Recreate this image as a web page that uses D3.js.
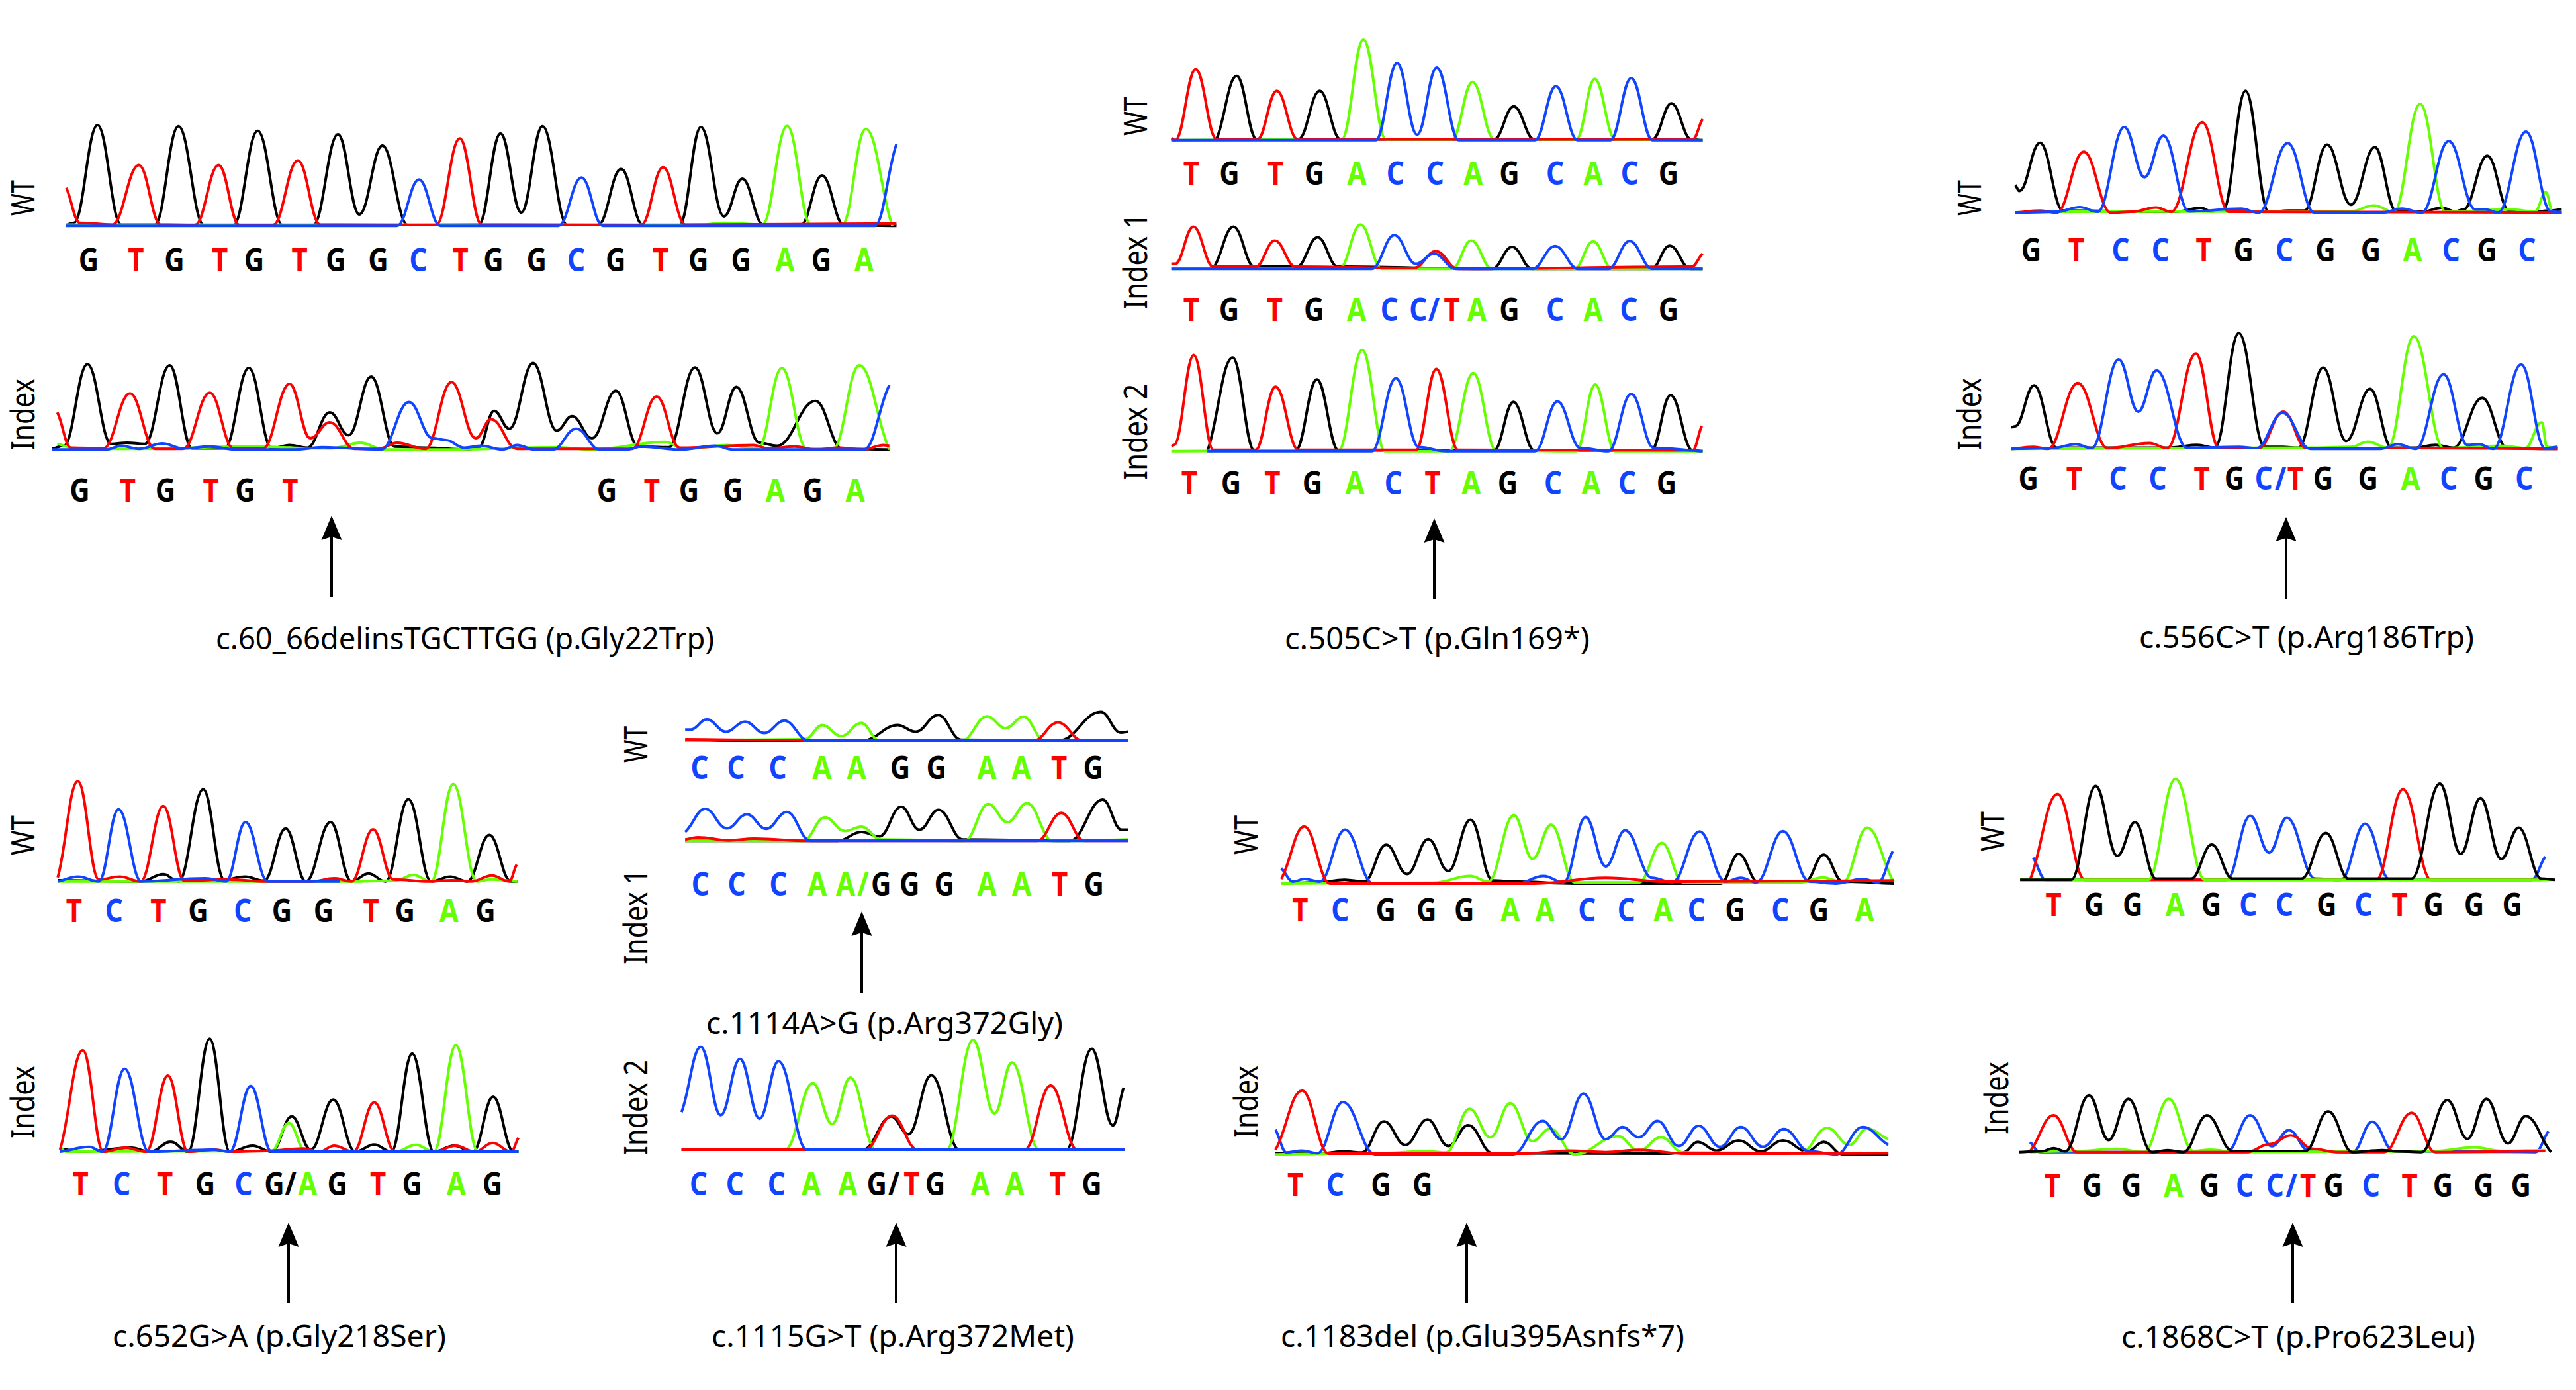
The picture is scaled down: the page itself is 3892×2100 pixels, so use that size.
<!DOCTYPE html>
<html><head><meta charset="utf-8">
<script src="https://cdn.jsdelivr.net/npm/d3@7"></script>
<style>html,body{margin:0;background:#fff}svg{display:block}</style></head>
<body><div id="chart"></div>
<script>
// Signal: flat lists of scan, signal (G, A, T, C channels per trace)
const aWtG=[112,2,125,8,165,265,205,3,262,3,302,262,345,2,395,2,436,250,478,2,530,2,572,241,608,30,647,211,690,2,810,3,847,243,882,35,918,262,960,2,1012,2,1051,150,1088,2,1150,2,1186,260,1225,25,1256,124,1292,2,1355,2,1391,133,1428,2,1517,0];
const aWtT=[112,100,135,8,190,3,235,160,272,3,330,2,370,160,405,2,462,2,504,172,542,3,738,2,778,230,815,3,1085,2,1122,154,1160,3,1517,6];
const aWtA=[112,3,1190,3,1225,8,1290,3,1332,263,1372,3,1425,3,1465,255,1510,0];
const aWtC=[112,0,672,0,709,122,745,0,945,0,984,127,1020,0,1480,0,1517,215];
const aIxG=[88,2,108,10,148,225,188,15,215,18,245,15,287,222,325,3,380,3,421,215,460,3,490,12,520,5,558,98,590,38,628,192,668,8,720,5,790,0,810,5,836,102,862,55,902,228,942,50,968,88,1002,30,1042,155,1080,8,1132,6,1176,216,1214,43,1246,165,1285,18,1315,10,1380,128,1425,2,1505,0];
const aIxT=[97,98,120,5,175,3,220,148,262,2,310,2,355,150,395,3,445,3,490,173,525,30,558,72,600,2,640,2,672,18,720,2,764,178,805,30,831,80,875,2,1070,2,1111,140,1150,5,1275,12,1300,3,1345,8,1380,0,1420,5,1460,0,1495,12,1505,10];
const aIxA=[97,15,130,3,180,2,240,2,415,8,560,3,610,18,650,0,760,0,940,6,1000,0,1125,20,1160,2,1230,12,1283,3,1323,215,1365,3,1410,3,1454,222,1505,0];
const aIxC=[88,0,180,0,205,10,235,2,275,16,310,3,355,8,400,0,500,0,545,6,645,0,692,125,732,30,755,25,785,5,815,10,850,0,875,12,905,0,935,0,975,55,1015,0,1060,0,1085,8,1150,0,1210,10,1240,0,1462,0,1505,170];

const bWtT=[115,5,125,0,176,168,228,2,330,2,378,117,430,2,1415,2,1440,50];
const bWtG=[228,3,278,152,328,2,432,2,485,117,537,2,920,2,969,80,1020,2,1315,2,1362,87,1412,2,1440,0];
const bWtA=[115,0,540,2,594,238,650,2,815,2,866,138,920,2,1125,2,1171,145,1222,2,1440,0];
const bWtC=[115,0,625,0,678,183,728,13,777,172,832,0,1022,0,1074,128,1128,0,1210,0,1262,147,1315,0,1440,0];
const bI1T=[115,12,125,12,170,100,220,5,325,5,373,67,425,5,720,2,775,42,830,0,1412,5,1440,36];
const bI1G=[222,5,270,100,322,5,428,5,480,75,530,5,915,0,965,52,1015,0,1312,0,1358,55,1410,0,1440,0];
const bI1A=[115,0,535,2,587,105,640,0,815,0,863,67,915,0,1120,0,1167,65,1215,0,1440,0];
const bI1C=[115,0,615,0,671,80,725,12,770,36,825,0,1015,0,1072,54,1130,0,1205,0,1258,66,1315,0,1440,0];
const bI2T=[115,12,122,15,171,228,220,3,325,3,375,153,432,3,725,3,776,195,830,3,1415,2,1438,60];
const bI2G=[205,0,268,222,322,2,425,2,478,170,532,2,920,2,968,117,1020,2,1312,2,1360,133,1415,2,1440,0];
const bI2A=[115,0,532,2,591,240,648,0,808,0,868,185,925,2,1125,0,1172,158,1222,0,1440,0];
const bI2C=[205,0,615,0,675,173,732,10,800,0,1022,0,1078,118,1135,8,1205,0,1262,136,1318,8,1440,0];

const cWtG=[158,70,168,55,220,178,278,5,560,2,625,12,650,3,680,5,737,310,795,2,845,5,885,5,942,173,1002,20,1062,167,1115,5,1180,2,1230,12,1265,3,1285,8,1345,145,1400,5,1460,2,1500,5,1532,8];
const cWtT=[158,0,222,5,262,0,330,155,398,0,450,2,512,13,550,2,628,230,695,2,1532,0];
const cWtA=[158,0,280,2,1000,3,1060,18,1110,2,1176,277,1240,2,1400,8,1465,3,1492,52,1510,0,1532,0];
const cWtC=[158,0,262,2,320,14,365,2,432,218,483,90,530,196,595,3,725,10,770,0,843,177,910,0,1080,0,1130,10,1180,0,1248,182,1315,8,1340,8,1372,0,1442,206,1505,3,1532,0];
const cIxG=[148,55,158,58,205,162,262,3,540,3,615,10,660,3,720,295,785,5,830,5,870,3,932,207,990,20,1050,153,1105,3,1160,3,1215,10,1260,3,1332,130,1395,2,1500,0,1522,0];
const cIxT=[148,0,205,5,240,0,315,168,390,2,495,15,540,2,612,243,670,2,770,2,832,95,890,2,1150,2,1522,0];
const cIxA=[148,0,900,3,1000,5,1045,18,1095,3,1160,287,1235,2,1380,8,1440,2,1482,68,1495,5,1522,2];
const cIxC=[148,0,250,2,310,12,350,2,418,228,467,95,513,200,590,3,720,5,765,2,830,92,900,0,1075,0,1120,12,1165,0,1235,190,1295,10,1325,12,1360,0,1430,215,1490,2,1522,5];

const dWtT=[152,10,205,250,260,5,315,12,370,0,430,188,485,2,600,5,700,0,820,0,880,8,925,0,982,130,1035,5,1130,0,1190,3,1240,0,1295,15,1340,0,1360,42];
const dWtG=[152,3,370,0,430,18,470,0,535,230,590,5,645,12,695,2,752,132,805,0,870,148,925,0,970,20,1015,0,1075,205,1135,0,1185,12,1230,0,1288,116,1345,0,1362,0];
const dWtA=[152,0,915,0,1040,2,1088,16,1135,0,1193,243,1255,0,1290,5,1362,0];
const dWtC=[152,0,205,12,260,0,312,180,372,0,540,8,595,0,646,148,705,0,895,0];
const dIxT=[158,5,218,253,272,0,330,10,385,0,442,190,495,0,565,5,610,0,700,2,800,8,840,0,880,15,930,0,985,123,1040,0,1140,0,1200,15,1250,0,1297,22,1345,0,1365,35];
const dIxG=[158,8,215,0,345,10,395,0,450,25,495,0,552,282,605,0,665,15,715,0,768,88,818,5,877,130,935,0,985,18,1030,0,1085,245,1142,0,1195,15,1245,0,1298,137,1352,0,1365,0];
const dIxA=[158,10,175,0,715,2,760,72,805,0,1040,0,1095,17,1142,0,1200,266,1258,0,1365,0];
const dIxC=[158,0,235,12,270,0,328,207,392,0,560,5,605,0,660,164,715,0,1365,0];

const eWtC=[210,25,225,25,270,48,322,20,375,43,428,17,483,45,550,0,1430,0];
const eWtA=[210,0,540,3,588,35,640,10,695,40,745,0,972,0,1042,55,1092,28,1142,54,1200,0,1430,0];
const eWtG=[210,0,700,0,795,35,845,20,907,58,970,2,1240,0,1355,65,1410,18,1430,20];
const eWtT=[210,3,500,1,550,0,1170,0,1237,41,1305,0,1430,0];
const eI1C=[210,20,265,72,325,28,380,60,433,27,490,65,555,0,1430,0];
const eI1A=[210,0,535,0,595,53,650,22,695,32,750,3,980,0,1045,83,1098,42,1152,85,1222,0,1280,0,1430,3];
const eI1G=[210,0,630,0,695,20,745,10,805,77,855,25,908,70,975,3,1270,0,1360,93,1412,25,1430,25];
const eI1T=[210,3,245,8,330,1,400,5,550,0,1180,0,1246,63,1310,0,1430,0];
const eI2C=[200,85,253,232,308,78,361,205,415,70,467,200,545,0,1420,0];
const eI2A=[200,0,485,0,562,150,615,58,665,163,735,0,930,0,1003,248,1062,82,1110,197,1185,0,1420,0];
const eI2G=[200,0,700,0,778,75,825,35,888,168,965,0,1260,0,1330,228,1388,55,1418,140];
const eI2T=[200,0,705,0,780,77,850,0,1145,0,1217,145,1290,0,1420,0];

const fWtT=[128,12,180,150,238,0,700,0,860,15,1000,5,1510,8];
const fWtG=[128,0,210,3,270,10,315,5,365,102,412,25,460,117,505,33,555,168,605,8,660,5,790,0,1120,0,1160,78,1205,3,1310,5,1352,76,1395,5,1510,0];
const fWtA=[128,0,470,2,555,20,595,5,653,180,695,65,737,155,790,3,935,3,987,107,1035,3,1300,3,1350,16,1395,3,1450,147,1510,5];
const fWtC=[128,40,155,5,180,12,215,5,272,142,335,0,660,0,720,20,765,3,815,175,860,45,904,140,965,15,1010,3,1072,137,1130,5,1165,15,1200,3,1260,138,1320,5,1380,0,1440,12,1475,3,1508,85];
const fIxT=[115,12,175,168,235,2,670,2,780,10,860,6,935,12,1040,2,1250,2,1498,3];
const fIxG=[115,3,220,3,270,8,310,5,360,87,408,25,458,92,505,22,550,77,605,3,1000,2,1035,5,1068,33,1110,10,1160,37,1210,8,1260,37,1315,8,1352,33,1395,0,1498,0];
const fIxA=[115,0,340,3,460,8,500,5,553,120,600,45,645,135,695,35,735,68,790,0,888,48,935,10,985,45,1035,5,1300,3,1360,70,1410,25,1450,68,1498,40];
const fIxC=[115,65,140,5,175,10,210,3,267,138,340,0,650,0,718,88,760,40,810,160,860,40,898,72,935,45,977,88,1025,22,1070,75,1118,20,1165,72,1215,20,1262,67,1320,8,1380,0,1440,72,1498,25];

const gWtT=[180,0,250,214,320,0,1060,0,1128,226,1200,0,1480,0];
const gWtG=[155,0,285,0,347,234,402,60,447,144,500,3,590,3,642,88,695,3,870,3,932,117,990,3,1150,3,1222,240,1275,65,1325,204,1378,52,1422,130,1480,3,1515,0];
const gWtA=[155,0,480,0,550,252,625,0,1510,0];
const gWtC=[188,55,220,0,680,0,740,160,788,68,833,155,905,3,970,0,1032,140,1095,0,1455,0,1490,58];
const gIxT=[180,2,240,92,300,0,730,0,790,20,843,42,900,8,960,0,1080,0,1150,98,1210,0,1490,3];
const gIxG=[152,0,210,2,240,10,270,2,330,142,380,30,430,133,490,0,530,5,570,0,630,92,695,3,880,3,938,102,1000,0,1075,5,1110,2,1175,0,1241,130,1292,33,1340,133,1395,22,1440,90,1505,0];
const gIxA=[180,0,300,3,400,8,470,0,533,133,595,3,640,6,700,0,1200,2,1310,12,1380,3,1490,5];
const gIxC=[180,25,205,0,680,0,740,92,795,15,838,55,890,3,1000,0,1050,76,1105,2,1465,0,1498,52];

// Base calls and their scan positions
const aWtBases="GTGTGTGGCTGGCGTGGAGA", aWtCalls=[150,230,295,372,430,507,568,640,708,779,835,908,975,1042,1118,1182,1254,1328,1390,1462];
const aIxBases="GTGTGTGTGGAGA", aIxCalls=[135,216,280,357,415,491,1027,1103,1166,1240,1312,1375,1447];
const bWtBases="TGTGACCAGCACG", bWtCalls=[165,260,375,472,578,674,773,868,958,1072,1167,1258,1355];
const bI1Bases="TGTGACC/TAGCACG", bI1Calls=[165,259,373,471,577,659,731,770,815,877,958,1072,1167,1256,1355];
const bI2Bases="TGTGACTAGCACG", bI2Calls=[160,264,367,467,573,669,767,863,954,1067,1162,1252,1350];
const cWtBases="GTCCTGCGGACGC", cWtCalls=[198,311,423,523,632,732,835,938,1052,1157,1254,1344,1445];
const cIxBases="GTCCTGC/TGGACGC", cIxCalls=[191,306,416,516,627,709,783,825,862,932,1045,1152,1248,1336,1438];
const dWtBases="TCTGCGGTGAG", dWtCalls=[195,300,417,522,639,742,852,977,1066,1182,1278];
const dIxBases="TCTGCG/AGTGAG", dIxCalls=[212,320,434,540,641,722,765,810,888,995,1085,1201,1296];
const eWtBases="CCCAAGGAATG", eWtCalls=[250,350,465,587,682,802,902,1041,1136,1240,1334];
const eI1Bases="CCCAA/GGGAATG", eI1Calls=[252,352,467,574,652,700,750,828,924,1041,1137,1242,1336];
const eI2Bases="CCCAAG/TGAATG", eI2Calls=[247,347,462,557,658,738,785,834,899,1023,1118,1236,1330];
const fWtBases="TCGGGAACCACGCGA", fWtCalls=[171,261,364,456,541,645,723,818,907,990,1065,1152,1254,1341,1444];
const fIxBases="TCGG", fIxCalls=[160,250,353,447];
const gWtBases="TGGAGCCGCTGGG", gWtCalls=[240,343,441,549,641,735,827,934,1028,1120,1206,1309,1406];
const gIxBases="TGGAGCC/TGCTGGG", gIxCalls=[237,338,438,545,636,726,803,845,887,952,1047,1145,1230,1333,1428];

const COLORS={G:"#000",A:"#66ff00",T:"#ff0000",C:"#1144ff"};

// Layout: each panel has its own read-off frame
const panels=[
 {x0:0,y0:130,w:1400,h:900,traces:[
   {base:368,ch:{G:aWtG,A:aWtA,T:aWtT,C:aWtC},bases:aWtBases,calls:aWtCalls,callY:487},
   {base:957,ch:{G:aIxG,A:aIxA,T:aIxT,C:aIxC},bases:aIxBases,calls:aIxCalls,callY:1094}],
  side:[{t:"WT",x:52,y1:272,y2:326},{t:"Index",x:52,y1:572,y2:680}],
  notes:[{t:"c.60_66delinsTGCTTGG (p.Gly22Trp)",x1:326,x2:1079,y:981,ax:501,tip:779,end:902}]},
 {x0:1700,y0:30,w:950,h:1000,traces:[
   {base:285,ch:{G:bWtG,A:bWtA,T:bWtT,C:bWtC},bases:bWtBases,calls:bWtCalls,callY:391},
   {base:590,ch:{G:bI1G,A:bI1A,T:bI1T,C:bI1C},bases:bI1Bases,calls:bI1Calls,callY:713},
   {base:1022,ch:{G:bI2G,A:bI2A,T:bI2T,C:bI2C},bases:bI2Bases,calls:bI2Calls,callY:1124}],
  side:[{t:"WT",x:1733,y1:146,y2:205},{t:"Index 1",x:1733,y1:322,y2:467},{t:"Index 2",x:1733,y1:580,y2:725}],
  notes:[{t:"c.505C>T (p.Gln169*)",x1:1941,x2:2402,y:981,ax:2167,tip:783,end:905}]},
 {x0:2950,y0:100,w:942,h:930,traces:[
   {base:373,ch:{G:cWtG,A:cWtA,T:cWtT,C:cWtC},bases:cWtBases,calls:cWtCalls,callY:498},
   {base:975,ch:{G:cIxG,A:cIxA,T:cIxT,C:cIxC},bases:cIxBases,calls:cIxCalls,callY:1079}],
  side:[{t:"WT",x:2993,y1:272,y2:326},{t:"Index",x:2993,y1:571,y2:680}],
  notes:[{t:"c.556C>T (p.Arg186Trp)",x1:3232,x2:3738,y:979,ax:3454,tip:781,end:905}]},
 {x0:0,y0:1150,w:900,h:950,traces:[
   {base:300,ch:{G:dWtG,A:dWtA,T:dWtT,C:dWtC},bases:dWtBases,calls:dWtCalls,callY:401},
   {base:974,ch:{G:dIxG,A:dIxA,T:dIxT,C:dIxC},bases:dIxBases,calls:dIxCalls,callY:1083}],
  side:[{t:"WT",x:52,y1:1232,y2:1292},{t:"Index",x:52,y1:1610,y2:1720}],
  notes:[{t:"c.652G>A (p.Gly218Ser)",x1:170,x2:674,y:2035,ax:436,tip:1847,end:1969}]},
 {x0:920,y0:1050,w:860,h:1050,traces:[
   {base:103,ch:{G:eWtG,A:eWtA,T:eWtT,C:eWtC},bases:eWtBases,calls:eWtCalls,callY:189},
   {base:329,ch:{G:eI1G,A:eI1A,T:eI1T,C:eI1C},bases:eI1Bases,calls:eI1Calls,callY:453},
   {base:1026,ch:{G:eI2G,A:eI2A,T:eI2T,C:eI2C},bases:eI2Bases,calls:eI2Calls,callY:1129}],
  side:[{t:"WT",x:978,y1:1097,y2:1152},{t:"Index 1",x:978,y1:1313,y2:1457},{t:"Index 2",x:978,y1:1601,y2:1745}],
  notes:[{t:"c.1114A>G (p.Arg372Gly)",x1:1067,x2:1606,y:1562,ax:1302,tip:1377,end:1500},
         {t:"c.1115G>T (p.Arg372Met)",x1:1075,x2:1623,y:2035,ax:1354,tip:1847,end:1969}]},
 {x0:1850,y0:1200,w:1050,h:900,traces:[
   {base:235,ch:{G:fWtG,A:fWtA,C:fWtC,T:fWtT},bases:fWtBases,calls:fWtCalls,callY:334},
   {base:948,ch:{G:fIxG,A:fIxA,C:fIxC,T:fIxT},bases:fIxBases,calls:fIxCalls,callY:1057}],
  side:[{t:"WT",x:1900,y1:1232,y2:1291},{t:"Index",x:1900,y1:1610,y2:1719}],
  notes:[{t:"c.1183del (p.Glu395Asnfs*7)",x1:1935,x2:2545,y:2035,ax:2216,tip:1847,end:1969}]},
 {x0:2960,y0:1150,w:932,h:950,traces:[
   {base:296,ch:{C:gWtC,T:gWtT,A:gWtA,G:gWtG},bases:gWtBases,calls:gWtCalls,callY:386},
   {base:975,ch:{C:gIxC,A:gIxA,T:gIxT,G:gIxG},bases:gIxBases,calls:gIxCalls,callY:1086}],
  side:[{t:"WT",x:3028,y1:1226,y2:1286},{t:"Index",x:3034,y1:1604,y2:1714}],
  notes:[{t:"c.1868C>T (p.Pro623Leu)",x1:3205,x2:3740,y:2036,ax:3464,tip:1847,end:1969}]}
];

// Peak curve: horizontal tangents at every knot except the two trace ends
function peakCurve(ctx){
  let pts=[];
  return {areaStart(){},areaEnd(){},lineStart(){pts=[]},point(x,y){pts.push([x,y])},
    lineEnd(){
      pts.forEach((p,i)=>{
        if(i===0){ctx.moveTo(p[0],p[1]);return;}
        const q=pts[i-1],k=(p[0]-q[0])*0.41;
        const y1=i===1?q[1]+(p[1]-q[1])*0.3:q[1];
        const y2=i===pts.length-1?p[1]-(p[1]-q[1])*0.3:p[1];
        ctx.bezierCurveTo(q[0]+k,y1,p[0]-k,y2,p[0],p[1]);
      });
    }};
}

const W=3892,H=2100,FRAME=1568;
const svg=d3.select("#chart").append("svg").attr("width",W).attr("height",H).attr("viewBox",[0,0,W,H]);
svg.append("rect").attr("width",W).attr("height",H).attr("fill","#fff");
const pairs=a=>d3.range(0,a.length,2).map(i=>[a[i],a[i+1]]);

panels.forEach(p=>{
  const x=d3.scaleLinear().domain([0,FRAME]).range([p.x0,p.x0+p.w]);
  const yf=d3.scaleLinear().domain([0,FRAME]).range([p.y0,p.y0+p.h]);
  const g=svg.append("g");
  p.traces.forEach(tr=>{
    const y=d3.scaleLinear().domain([0,FRAME]).range([yf(tr.base),yf(tr.base-FRAME)]);
    const line=d3.line().x(d=>x(d[0])).y(d=>y(d[1])).curve(peakCurve);
    Object.entries(tr.ch).forEach(([b,vals])=>{
      g.append("path").attr("d",line(pairs(vals))).attr("fill","none")
       .attr("stroke",COLORS[b]).attr("stroke-width",4).attr("stroke-linejoin","round");
    });
    let prev="G";
    [...tr.bases].forEach((c,i)=>{
      const col=c==="/"?COLORS[prev]:COLORS[c]; if(c!=="/")prev=c;
      g.append("text").attr("transform",`translate(${x(tr.calls[i])},${yf(tr.callY)}) scale(0.86,1)`)
       .attr("text-anchor","middle").attr("font-family","'Noto Sans'").attr("font-weight",700)
       .attr("font-size",49).attr("fill",col).text(c);
    });
  });
  p.side.forEach(s=>{
    g.append("text").attr("transform",`translate(${s.x},${s.y2}) rotate(-90)`)
     .attr("font-family","'Noto Sans'").attr("font-size",49).attr("fill","#000")
     .attr("textLength",s.y2-s.y1).attr("lengthAdjust","spacingAndGlyphs").text(s.t);
  });
  p.notes.forEach(n=>{
    g.append("text").attr("x",n.x1).attr("y",n.y)
     .attr("font-family","'Noto Sans'").attr("font-size",46).attr("fill","#000")
     .attr("textLength",n.x2-n.x1).attr("lengthAdjust","spacingAndGlyphs").text(n.t);
    g.append("line").attr("x1",n.ax).attr("x2",n.ax).attr("y1",n.tip+30).attr("y2",n.end)
     .attr("stroke","#000").attr("stroke-width",4);
    g.append("path").attr("fill","#000")
     .attr("d",d3.line()([[n.ax,n.tip],[n.ax+15.5,n.tip+37],[n.ax,n.tip+32],[n.ax-15.5,n.tip+37]])+"Z");
  });
});
</script></body></html>
